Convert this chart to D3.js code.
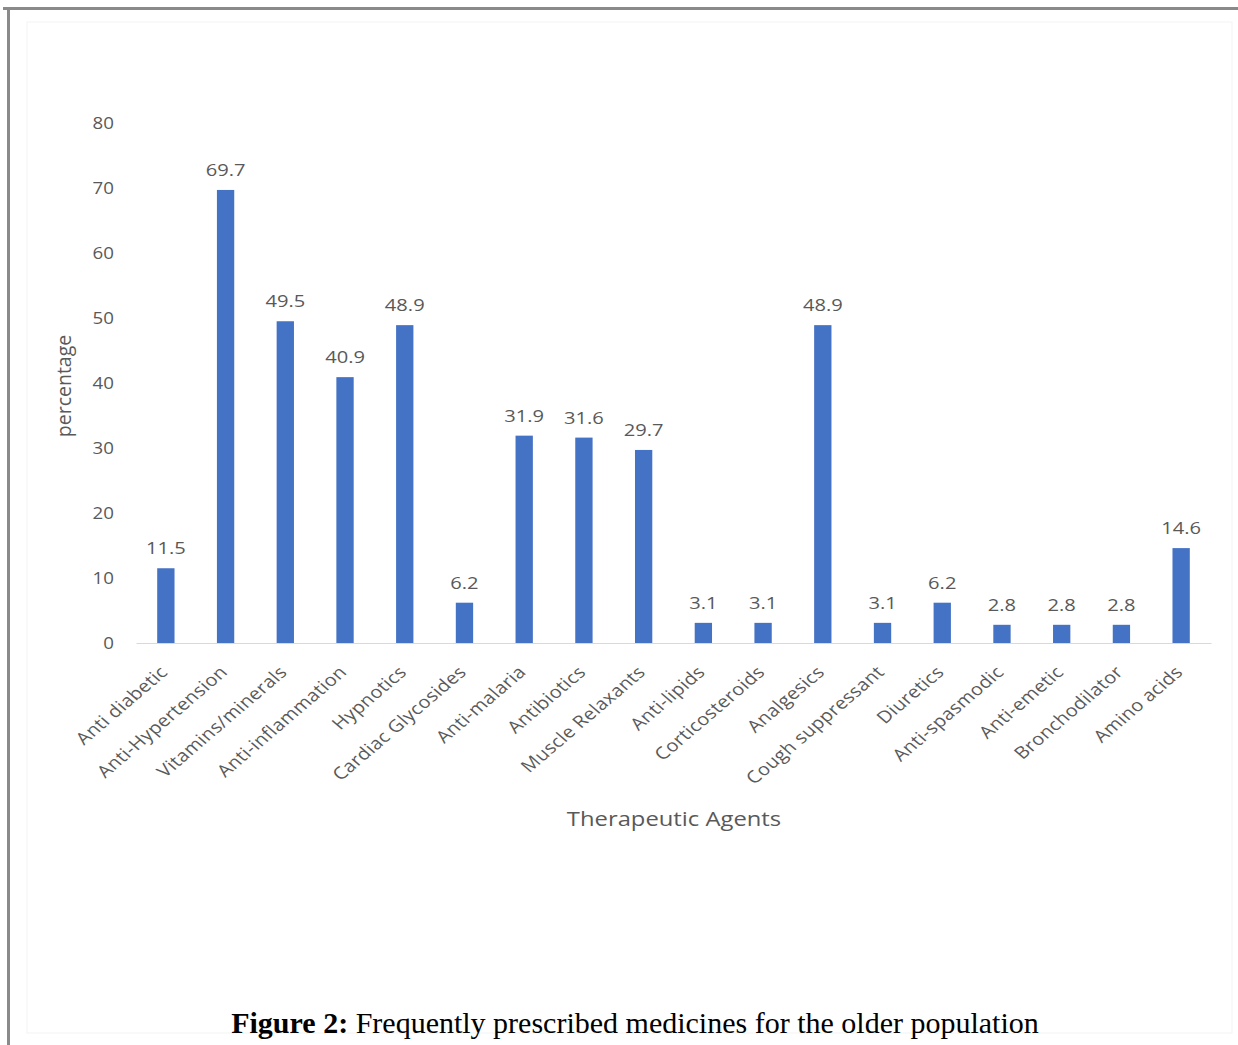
<!DOCTYPE html>
<html>
<head>
<meta charset="utf-8">
<script src="https://cdn.jsdelivr.net/npm/d3@7"></script>
<style>
  html, body { margin: 0; padding: 0; background: #ffffff; }
  svg { display: block; }
</style>
</head>
<body>
<svg id="chart" width="1238" height="1045"></svg>
<script>
// Therapeutic agent categories and share of prescriptions (%)
const categories = [
  "Anti diabetic", "Anti-Hypertension", "Vitamins/minerals", "Anti-inflammation",
  "Hypnotics", "Cardiac Glycosides", "Anti-malaria", "Antibiotics",
  "Muscle Relaxants", "Anti-lipids", "Corticosteroids", "Analgesics",
  "Cough suppressant", "Diuretics", "Anti-spasmodic", "Anti-emetic",
  "Bronchodilator", "Amino acids"
];
const percentages = [
  11.5, 69.7, 49.5, 40.9, 48.9, 6.2, 31.9, 31.6, 29.7,
  3.1, 3.1, 48.9, 3.1, 6.2, 2.8, 2.8, 2.8, 14.6
];
const yTicks = [0, 10, 20, 30, 40, 50, 60, 70, 80];
const yTitle = "percentage";
const xTitle = "Therapeutic Agents";
const captionBold = "Figure 2:";
const captionText = " Frequently prescribed medicines for the older population";

const svg = d3.select("#chart");
const W = 1238, H = 1045;
const textGray = "#595959";
const uiFont = "'Open Sans', 'Liberation Sans', sans-serif";
const stretch = 1.17; // chart text is drawn slightly wide

// page frame
svg.append("rect").attr("x", 0).attr("y", 0).attr("width", W).attr("height", H).attr("fill", "#ffffff");
svg.append("line").attr("x1", 3).attr("x2", W).attr("y1", 8.5).attr("y2", 8.5)
  .attr("stroke", "#8a8a8a").attr("stroke-width", 3);
svg.append("line").attr("x1", 8.5).attr("x2", 8.5).attr("y1", 7).attr("y2", H)
  .attr("stroke", "#8a8a8a").attr("stroke-width", 3);
// faint chart-area outline
svg.append("rect").attr("x", 27).attr("y", 22).attr("width", 1205).attr("height", 1011)
  .attr("fill", "none").attr("stroke", "#f3f3f3").attr("stroke-width", 1);

const plot = { left: 136, right: 1211, top: 123, bottom: 643 };

const x = d3.scaleBand()
  .domain(categories)
  .range([plot.left, plot.right])
  .paddingInner(0.71)
  .paddingOuter(0.355);

const y = d3.scaleLinear().domain([0, 80]).range([plot.bottom, plot.top]);

// y axis tick labels (no axis line)
const yAxis = d3.axisLeft(y).tickValues(yTicks).tickSize(0).tickPadding(0);
const yG = svg.append("g").attr("transform", `translate(${plot.left - 22},0)`).call(yAxis);
yG.select(".domain").remove();
yG.selectAll("text")
  .attr("x", null)
  .attr("transform", `scale(${stretch},1)`)
  .attr("fill", textGray)
  .attr("font-family", uiFont)
  .attr("font-size", 16);

// baseline
const xAxis = d3.axisBottom(x).tickSize(0).tickFormat("");
const xG = svg.append("g").attr("transform", `translate(0,${plot.bottom})`).call(xAxis);
xG.select(".domain").attr("stroke", "#d9d9d9").attr("stroke-width", 1);

// bars
svg.append("g").selectAll("rect")
  .data(percentages)
  .join("rect")
  .attr("x", (d, i) => x(categories[i]))
  .attr("y", d => y(d))
  .attr("width", x.bandwidth())
  .attr("height", d => y(0) - y(d))
  .attr("fill", "#4472c4");

// value labels
svg.append("g").selectAll("text")
  .data(percentages)
  .join("text")
  .attr("transform", (d, i) =>
    `translate(${x(categories[i]) + x.bandwidth() / 2},${y(d) - 14}) scale(1.22,1)`)
  .attr("text-anchor", "middle")
  .attr("fill", textGray)
  .attr("font-family", uiFont)
  .attr("font-size", 16.5)
  .text(d => d.toFixed(1));

// rotated category labels
svg.append("g").selectAll("text")
  .data(categories)
  .join("text")
  .attr("transform", d =>
    `translate(${x(d) + x.bandwidth() / 2 - 2},${plot.bottom + 26}) scale(${stretch},1) rotate(-45)`)
  .attr("text-anchor", "end")
  .attr("dy", "0.35em")
  .attr("fill", textGray)
  .attr("font-family", uiFont)
  .attr("font-size", 17)
  .attr("letter-spacing", "0.3px")
  .text(d => d);

// axis titles
svg.append("text")
  .attr("transform", `translate(71,${(plot.top + plot.bottom) / 2 + 3}) rotate(-90)`)
  .attr("text-anchor", "middle")
  .attr("fill", textGray)
  .attr("font-family", uiFont)
  .attr("font-size", 19.5)
  .text(yTitle);

svg.append("text")
  .attr("transform", `translate(674,826) scale(1.22,1)`)
  .attr("text-anchor", "middle")
  .attr("fill", textGray)
  .attr("font-family", uiFont)
  .attr("font-size", 19.5)
  .text(xTitle);

// figure caption
const cap = svg.append("text")
  .attr("x", 635)
  .attr("y", 1033)
  .attr("text-anchor", "middle")
  .attr("fill", "#000000")
  .attr("font-family", "'Liberation Serif', 'DejaVu Serif', serif")
  .attr("font-size", 30);
cap.append("tspan").attr("font-weight", "bold").text(captionBold);
cap.append("tspan").text(captionText);
</script>
</body>
</html>
